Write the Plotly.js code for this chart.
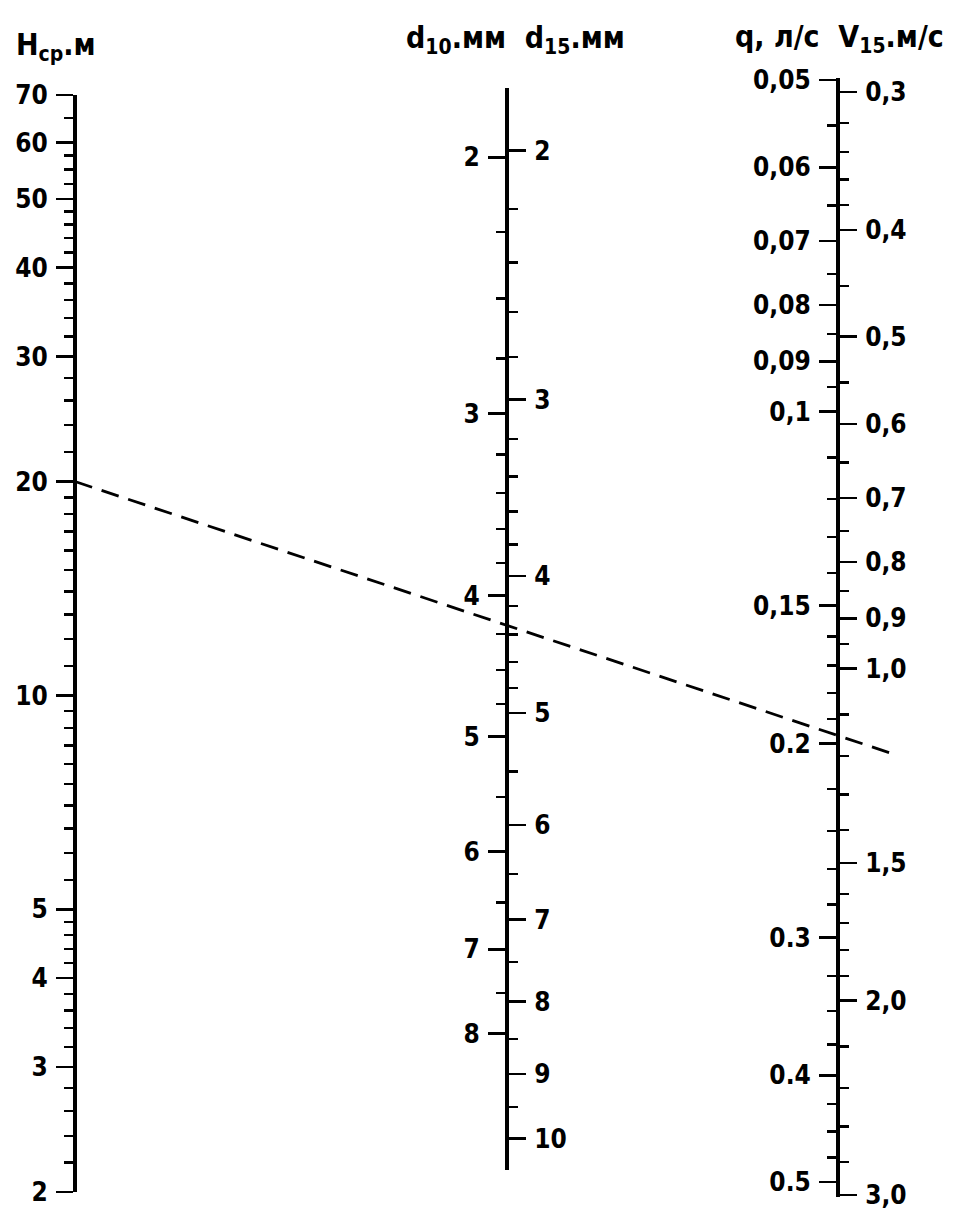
<!DOCTYPE html>
<html><head><meta charset="utf-8">
<script src="https://cdn.plot.ly/plotly-3.0.1.min.js"></script>
<style>html,body{margin:0;padding:0;background:#fff}</style>
</head><body>
<div id="chart" style="width:959px;height:1224px"></div>
<script>
// ---- DATA (scale values) ----
const hTicks   = [2, 3, 4, 5, 10, 20, 30, 40, 50, 60, 70];
const hLabels  = ['2','3','4','5','10','20','30','40','50','60','70'];
const hMinor   = [2.2,2.4,2.6,2.8,3.2,3.4,3.6,3.8,4.2,4.4,4.6,4.8,5.5,6,6.5,7,7.5,8,8.5,9,9.5,
                  11,12,13,14,15,16,17,18,19,22,24,26,28,32,34,36,38,42,44,46,48,52.5,55,57.5,65];

const d10Ticks  = [2, 3, 4, 5, 6, 7, 8];
const d10Labels = ['2','3','4','5','6','7','8'];
const d10Minor  = [2.25,2.5,2.75,3.2,3.4,3.6,3.8,4.25,4.5,4.75,5.5,6.5,7.5];

const d15Ticks  = [2, 3, 4, 5, 6, 7, 8, 9, 10];
const d15Labels = ['2','3','4','5','6','7','8','9','10'];
const d15Minor  = [2.2,2.4,2.6,2.8,3.2,3.4,3.6,3.8,4.2,4.4,4.6,4.8,5.5,6.5,7.5,8.5,9.5];

const qTicks  = [0.05,0.06,0.07,0.08,0.09,0.1,0.15,0.2,0.3,0.4,0.5];
const qLabels = ['0,05','0,06','0,07','0,08','0,09','0,1','0,15','0.2','0.3','0.4','0.5'];
const qMinor  = [0.055,0.065,0.075,0.085,0.095,0.11,0.12,0.13,0.14,0.16,0.17,0.18,0.19,
                 0.22,0.24,0.26,0.28,0.325,0.35,0.375,0.425,0.45,0.475];

const vTicks  = [0.3,0.4,0.5,0.6,0.7,0.8,0.9,1.0,1.5,2.0,3.0];
const vLabels = ['0,3','0,4','0,5','0,6','0,7','0,8','0,9','1,0','1,5','2,0','3,0'];
const vMinor  = [0.32,0.34,0.36,0.38,0.45,0.55,0.65,0.75,0.85,0.95,1.1,1.2,1.3,1.4,
                 1.6,1.7,1.8,1.9,2.2,2.4,2.6,2.8];

// example key line: from H = 20 m down to about q = 0.2 l/s (expressed on the H scale)
const exampleLineH = [20, 8.3];

// ---- LAYOUT ----
const W = 959, HT = 1224;
const fx = px => px / W;
const fy = px => 1 - px / HT;
const FONT = 'DejaVu Sans Condensed, DejaVu Sans, sans-serif';
const tickFont = {family: FONT, size: 26, color: '#000', weight: 'bold'};

function minorCfg(vals) {
  return {tickmode: 'array', tickvals: vals, ticks: 'outside', ticklen: 9,
          tickwidth: 2.4, tickcolor: '#000', showgrid: false};
}
function scaleAxis(opts) {
  return Object.assign({
    type: 'log', anchor: 'free', showgrid: false, zeroline: false,
    showline: true, linecolor: '#000', linewidth: 4,
    ticks: 'outside', ticklen: 17, tickwidth: 2.6, tickcolor: '#000',
    tickmode: 'array', tickfont: tickFont, ticklabelstandoff: 3,
    fixedrange: true
  }, opts);
}

const layout = {
  width: W, height: HT,
  margin: {l: 0, r: 0, t: 0, b: 0},
  paper_bgcolor: '#fff', plot_bgcolor: 'rgba(0,0,0,0)',
  showlegend: false,
  xaxis: {domain: [0, 1], range: [0, W], visible: false, fixedrange: true},
  yaxis: scaleAxis({
    domain: [fy(1192), fy(95)], range: [Math.log10(2), Math.log10(70)],
    position: fx(75), side: 'left',
    tickvals: hTicks, ticktext: hLabels, minor: minorCfg(hMinor)
  }),
  yaxis2: scaleAxis({
    domain: [fy(1170), fy(88)], range: [0.9968, 0.2534],
    position: fx(507), side: 'left',
    tickvals: d10Ticks, ticktext: d10Labels, minor: minorCfg(d10Minor)
  }),
  yaxis3: scaleAxis({
    domain: [fy(1170), fy(88)], range: [1.0223, 0.2566],
    position: fx(507), side: 'right',
    tickvals: d15Ticks, ticktext: d15Labels, minor: minorCfg(d15Minor)
  }),
  yaxis4: scaleAxis({
    domain: [fy(1197), fy(78)], range: [-0.28742, -1.30284],
    position: fx(838), side: 'left',
    tickvals: qTicks, ticktext: qLabels, minor: minorCfg(qMinor)
  }),
  yaxis5: scaleAxis({
    domain: [fy(1197), fy(78)], range: [0.47893, -0.53557],
    position: fx(838), side: 'right',
    tickvals: vTicks, ticktext: vLabels, minor: minorCfg(vMinor)
  }),
  annotations: [
    {text: 'H<sub>ср</sub>.м', xref: 'paper', yref: 'paper', x: fx(14), y: fy(47),
     xanchor: 'left', yanchor: 'middle', showarrow: false,
     font: {family: FONT, size: 30, color: '#000', weight: 'bold'}},
    {text: 'd<sub>10</sub>.мм  d<sub>15</sub>.мм', xref: 'paper', yref: 'paper', x: fx(404), y: fy(40),
     xanchor: 'left', yanchor: 'middle', showarrow: false,
     font: {family: FONT, size: 30, color: '#000', weight: 'bold'}},
    {text: 'q, л/с  V<sub>15</sub>.м/с', xref: 'paper', yref: 'paper', x: fx(733), y: fy(38),
     xanchor: 'left', yanchor: 'middle', showarrow: false,
     font: {family: FONT, size: 30, color: '#000', weight: 'bold'}}
  ]
};

const hidden = (ax, vals) => ({x: vals.map(() => -50), y: vals, xaxis: 'x', yaxis: ax,
  mode: 'lines', line: {width: 0}, hoverinfo: 'skip', showlegend: false});

const traces = [
  {x: [75, 890], y: exampleLineH, xaxis: 'x', yaxis: 'y', mode: 'lines',
   line: {color: '#000', width: 2.8, dash: '18px,10px'}, hoverinfo: 'skip', showlegend: false},
  hidden('y2', d10Ticks), hidden('y3', d15Ticks), hidden('y4', qTicks), hidden('y5', vTicks)
];

Plotly.newPlot('chart', traces, layout, {staticPlot: true, displayModeBar: false});
</script>
</body></html>
